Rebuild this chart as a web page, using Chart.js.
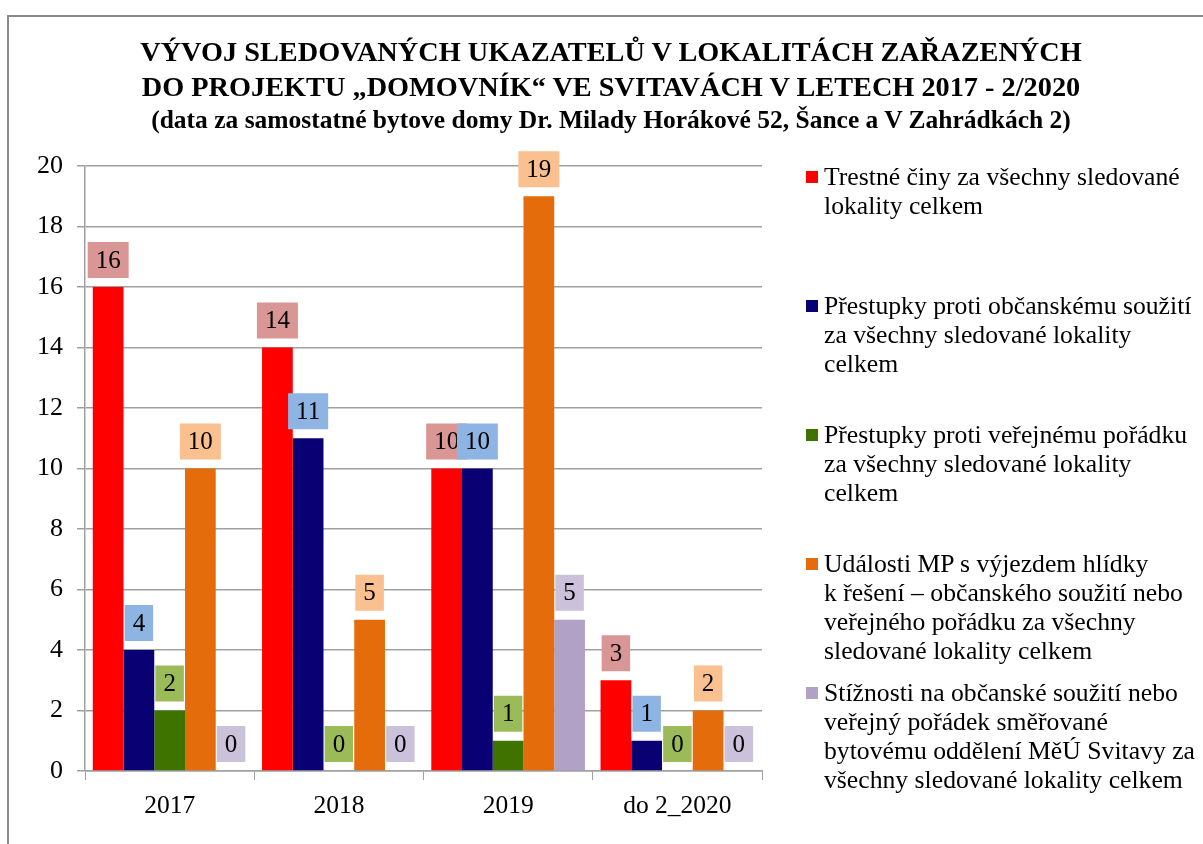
<!DOCTYPE html>
<html>
<head>
<meta charset="utf-8">
<script src="https://cdn.jsdelivr.net/npm/chart.js@4/dist/chart.umd.min.js"></script>
<style>
    html, body { margin: 0; padding: 0; background: #fff; }
    body { width: 1203px; height: 844px; position: relative; overflow: hidden; font-family: "Liberation Serif", "Times New Roman", serif; }
    .frame { position: absolute; left: 7px; top: 15px; width: 1300px; height: 900px; border: 2px solid #8a8a8a; }
    #chart-wrap { position: absolute; left: 0; top: 0; width: 1203px; height: 844px; }
    .title { position: absolute; left: 61px; width: 1100px; text-align: center; font-weight: bold; color: #000; white-space: nowrap; }
    .title.main { font-size: 28.3px; }
    .title.sub { font-size: 25.5px; }
    #legend { position: absolute; left: 806px; top: 0; }
    #legend .item { position: absolute; left: 0; width: 400px; }
    #legend .box { position: absolute; left: 0; top: 9px; width: 12px; height: 12px; }
    #legend .text { position: absolute; left: 18px; top: 0; font-size: 25.7px; line-height: 29px; white-space: nowrap; color: #000; }
</style>
</head>
<body>
<div class="frame"></div>
<div id="chart-wrap"><canvas id="chart" width="1203" height="844"></canvas></div>
<div class="title main" style="top:36px">VÝVOJ SLEDOVANÝCH UKAZATELŮ V LOKALITÁCH ZAŘAZENÝCH</div>
<div class="title main" style="top:71px">DO PROJEKTU „DOMOVNÍK“ VE SVITAVÁCH V LETECH 2017 - 2/2020</div>
<div class="title sub" style="top:105px">(data za samostatné bytove domy Dr. Milady Horákové 52, Šance a V Zahrádkách 2)</div>
<div id="legend"></div>
<script>
    const years = ['2017', '2018', '2019', 'do 2_2020'];

    const trestneCiny = [16, 14, 10, 3];
    const prestupkySouziti = [4, 11, 10, 1];
    const prestupkyPoradek = [2, 0, 1, 0];
    const udalostiMP = [10, 5, 19, 2];
    const stiznosti = [0, 0, 5, 0];

    const yTicks = [0, 2, 4, 6, 8, 10, 12, 14, 16, 18, 20];

    const seriesLabels = [
        ['Trestné činy za všechny sledované', 'lokality celkem'],
        ['Přestupky proti občanskému soužití', 'za všechny sledované lokality', 'celkem'],
        ['Přestupky proti veřejnému pořádku', 'za všechny sledované lokality', 'celkem'],
        ['Události MP s výjezdem hlídky', 'k řešení – občanského soužití nebo', 'veřejného pořádku za všechny', 'sledované lokality celkem'],
        ['Stížnosti na občanské soužití nebo', 'veřejný pořádek směřované', 'bytovému oddělení MěÚ Svitavy za', 'všechny sledované lokality celkem']
    ];
    const seriesColors = ['#ff0000', '#080073', '#3f7300', '#e46c0a', '#b2a1c7'];
    const labelColors = ['#d99694', '#8eb4e3', '#9bbb59', '#fac090', '#ccc1da'];

    const allSeries = [trestneCiny, prestupkySouziti, prestupkyPoradek, udalostiMP, stiznosti];

    // value boxes above each bar
    const valueBoxes = {
        id: 'valueBoxes',
        afterDatasetsDraw(chart) {
            const ctx = chart.ctx;
            ctx.save();
            ctx.font = '25px "Liberation Serif", serif';
            ctx.textAlign = 'center';
            ctx.textBaseline = 'middle';
            chart.data.datasets.forEach((ds, i) => {
                const meta = chart.getDatasetMeta(i);
                meta.data.forEach((bar, j) => {
                    const text = String(ds.data[j]);
                    const w = ctx.measureText(text).width + 16;
                    const h = 36;
                    const bottom = bar.y - 9;
                    ctx.fillStyle = labelColors[i];
                    ctx.fillRect(bar.x - w / 2, bottom - h, w, h);
                    ctx.fillStyle = '#000';
                    ctx.fillText(text, bar.x, bottom - h / 2 + 1);
                });
            });
            ctx.restore();
        }
    };

    const chart = new Chart(document.getElementById('chart'), {
        type: 'bar',
        data: {
            labels: years,
            datasets: allSeries.map((values, i) => ({
                label: seriesLabels[i].join(' '),
                data: values,
                backgroundColor: seriesColors[i],
                borderWidth: 0,
                categoryPercentage: 0.908,
                barPercentage: 1
            }))
        },
        options: {
            responsive: false,
            animation: false,
            layout: {
                padding: { top: 166, right: 441, bottom: 13, left: 0 }
            },
            scales: {
                x: {
                    grid: {
                        drawOnChartArea: false,
                        drawTicks: true,
                        tickLength: 9,
                        color: '#a0a0a0'
                    },
                    border: { color: '#a0a0a0', width: 1.5 },
                    ticks: {
                        color: '#000',
                        padding: 11,
                        font: { family: '"Liberation Serif", serif', size: 25.5 }
                    },
                    afterFit(scale) { scale.height = 60; }
                },
                y: {
                    min: 0,
                    max: 20,
                    afterBuildTicks(scale) { scale.ticks = yTicks.map(v => ({ value: v })); },
                    grid: {
                        color: '#a0a0a0',
                        lineWidth: 1.5,
                        tickLength: 8
                    },
                    border: { color: '#a0a0a0', width: 1.5 },
                    ticks: {
                        color: '#000',
                        padding: 14,
                        font: { family: '"Liberation Serif", serif', size: 26 }
                    },
                    afterFit(scale) { scale.width = 85; }
                }
            },
            plugins: {
                legend: { display: false },
                tooltip: { enabled: false }
            }
        },
        plugins: [valueBoxes]
    });

    const legend = document.getElementById('legend');
    seriesLabels.forEach((lines, i) => {
        legend.insertAdjacentHTML('beforeend',
            `
                <div class="item" style="top:${162 + i * 129}px">
                    <div class="box" style="background:${seriesColors[i]}"></div>
                    <div class="text">${lines.join('<br>')}</div>
                </div>
            `
        );
    });
</script>
</body>
</html>
